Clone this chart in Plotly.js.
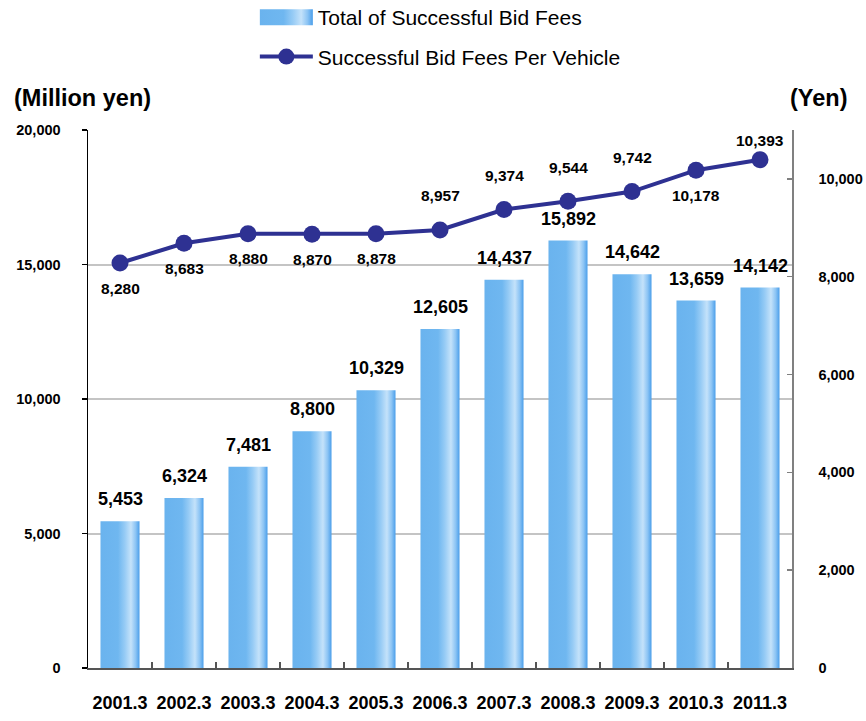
<!DOCTYPE html>
<html>
<head>
<meta charset="utf-8">
<script src="https://cdn.plot.ly/plotly-3.0.1.min.js"></script>
<style>
  html, body { margin: 0; padding: 0; background: #fff; }
  #chart { width: 866px; height: 721px; }
</style>
</head>
<body>
<div id="chart"></div>
<script>
// ---- data ----
var categories = ['2001.3', '2002.3', '2003.3', '2004.3', '2005.3', '2006.3', '2007.3', '2008.3', '2009.3', '2010.3', '2011.3'];
var totalFees = [5453, 6324, 7481, 8800, 10329, 12605, 14437, 15892, 14642, 13659, 14142];
var feesPerVehicle = [8280, 8683, 8880, 8870, 8878, 8957, 9374, 9544, 9742, 10178, 10393];
var lineLabelSide = ['below', 'below', 'below', 'below', 'below', 'above', 'above', 'above', 'above', 'below', 'aboveNear'];
var seriesNames = ['Total of Successful Bid Fees', 'Successful Bid Fees Per Vehicle'];

var FONT = 'Arial, "Liberation Sans", Helvetica, sans-serif';
var LINE_COLOR = '#2E3192';
var BAR_COLOR = '#6CB4EE';
var SIDE_SHIFT = { above: 34, aboveNear: 19, below: -25 };

function fmt(v) { return v.toLocaleString('en-US'); }

var traces = [
  {
    type: 'bar',
    name: seriesNames[0],
    x: categories,
    y: totalFees,
    yaxis: 'y',
    width: 0.61,
    marker: { color: BAR_COLOR, line: { width: 0 } },
    legendgroup: 'a',
    hoverinfo: 'x+y'
  },
  {
    type: 'scatter',
    mode: 'lines+markers',
    name: seriesNames[1],
    x: categories,
    y: feesPerVehicle,
    yaxis: 'y2',
    line: { color: LINE_COLOR, width: 4 },
    marker: { color: LINE_COLOR, size: 17 },
    legendgroup: 'b',
    hoverinfo: 'x+y'
  }
];

var annotations = [];
categories.forEach(function (c, i) {
  annotations.push({
    x: i, y: totalFees[i], xref: 'x', yref: 'y',
    text: fmt(totalFees[i]), showarrow: false,
    yanchor: 'middle', yshift: 22,
    font: { family: FONT, size: 18, color: '#000', weight: 'bold' }
  });
  annotations.push({
    x: i, y: feesPerVehicle[i], xref: 'x', yref: 'y2',
    text: fmt(feesPerVehicle[i]), showarrow: false,
    yanchor: 'middle', yshift: SIDE_SHIFT[lineLabelSide[i]],
    font: { family: FONT, size: 15.5, color: '#000', weight: 'bold' }
  });
});
annotations.push({
  text: '(Million yen)', xref: 'paper', yref: 'paper',
  x: -0.108, y: 1.0595, xanchor: 'left', yanchor: 'middle', showarrow: false,
  font: { family: FONT, size: 23.5, color: '#000', weight: 'bold' }
});
annotations.push({
  text: '(Yen)', xref: 'paper', yref: 'paper',
  x: 1.037, y: 1.0595, xanchor: 'center', yanchor: 'middle', showarrow: false,
  font: { family: FONT, size: 23.5, color: '#000', weight: 'bold' }
});

var layout = {
  width: 866,
  height: 721,
  margin: { l: 88, r: 74, t: 130, b: 53, pad: 0, autoexpand: false },
  paper_bgcolor: '#fff',
  plot_bgcolor: '#fff',
  font: { family: FONT, color: '#000' },
  showlegend: true,
  legend: {
    orientation: 'v',
    x: 0.237, y: 1.247, xanchor: 'left', yanchor: 'top',
    font: { family: FONT, size: 21, color: '#000' },
    itemwidth: 53,
    traceorder: 'grouped',
    tracegroupgap: 9,
    bgcolor: 'rgba(0,0,0,0)'
  },
  xaxis: {
    type: 'category',
    range: [-0.5, categories.length - 0.5],
    showline: true, linecolor: '#555', linewidth: 2,
    ticks: 'inside', tickson: 'boundaries', ticklen: 6, tickcolor: '#555', tickwidth: 1.5,
    tickfont: { family: FONT, size: 18, color: '#000', weight: 'bold' },
    tickangle: 0,
    ticklabelstandoff: 17,
    showgrid: false, zeroline: false,
    fixedrange: true
  },
  yaxis: {
    range: [0, 20000], dtick: 5000, tick0: 0, tickformat: ',',
    showline: true, linecolor: '#000', linewidth: 1.5,
    ticks: 'outside', ticklen: 5, tickcolor: '#000', tickwidth: 1.5,
    showgrid: true, gridcolor: '#C4C4C4', gridwidth: 2,
    zeroline: false,
    tickfont: { family: FONT, size: 14.5, color: '#000', weight: 'bold' },
    ticklabelstandoff: 18,
    fixedrange: true
  },
  yaxis2: {
    overlaying: 'y', side: 'right',
    range: [0, 11000], dtick: 2000, tick0: 0, tickformat: ',',
    showline: true, linecolor: '#808080', linewidth: 1.5,
    ticks: 'inside', ticklen: 5, tickcolor: '#808080', tickwidth: 1.5,
    showgrid: false, zeroline: false,
    tickfont: { family: FONT, size: 14.5, color: '#000', weight: 'bold' },
    ticklabelstandoff: 22,
    fixedrange: true
  },
  annotations: annotations
};

var gd = document.getElementById('chart');

function styleBars() {
  var svg = gd.querySelector('.main-svg');
  if (!svg) return;
  var defs = svg.querySelector('defs');
  if (!defs) {
    defs = document.createElementNS('http://www.w3.org/2000/svg', 'defs');
    svg.insertBefore(defs, svg.firstChild);
  }
  if (!svg.querySelector('#barGrad')) {
    var ns = 'http://www.w3.org/2000/svg';
    var g = document.createElementNS(ns, 'linearGradient');
    g.setAttribute('id', 'barGrad');
    g.setAttribute('x1', '0'); g.setAttribute('y1', '0');
    g.setAttribute('x2', '1'); g.setAttribute('y2', '0');
    var stops = [[0, '#6AB3EE'], [0.45, '#6FB7F0'], [0.62, '#96CBF5'], [0.78, '#C4E2FA'], [0.9, '#8CC4F4'], [1, '#4A9EEA']];
    stops.forEach(function (s) {
      var st = document.createElementNS(ns, 'stop');
      st.setAttribute('offset', s[0]);
      st.setAttribute('stop-color', s[1]);
      g.appendChild(st);
    });
    defs.appendChild(g);
  }
  gd.querySelectorAll('.barlayer .point path').forEach(function (p) {
    p.style.fill = 'url(#barGrad)';
  });
  var legTraces = gd.querySelectorAll('.legend .traces');
  if (legTraces.length) {
    var bp = legTraces[0].querySelector('.legendpoints path');
    if (bp) {
      bp.setAttribute('d', 'M26.5,8H-26.5V-8H26.5Z');
      bp.style.fill = 'url(#barGrad)';
      bp.style.stroke = 'none';
    }
  }
}

Plotly.newPlot(gd, traces, layout, { displayModeBar: false, staticPlot: true }).then(function () {
  styleBars();
  gd.on && gd.on('plotly_afterplot', styleBars);
});
</script>
</body>
</html>
